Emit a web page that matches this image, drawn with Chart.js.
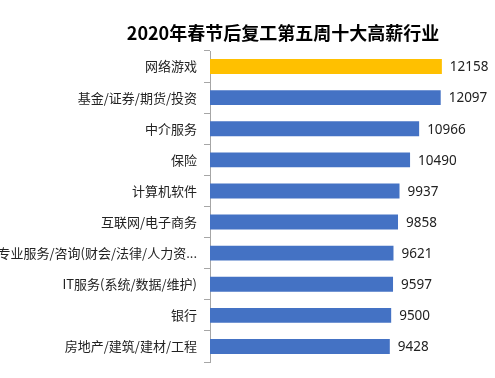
<!DOCTYPE html>
<html>
<head>
<meta charset="utf-8">
<script src="https://cdn.jsdelivr.net/npm/chart.js@4"></script>
<style>
html,body{margin:0;padding:0;background:#fff;}
#wrap{width:495px;height:378px;}
</style>
</head>
<body>
<div id="wrap"><canvas id="c" width="495" height="378"></canvas></div>
<script>
const categories = ["网络游戏","基金/证券/期货/投资","中介服务","保险","计算机软件","互联网/电子商务","专业服务/咨询(财会/法律/人力资...","IT服务(系统/数据/维护)","银行","房地产/建筑/建材/工程"];
const salaries = [12158,12097,10966,10490,9937,9858,9621,9597,9500,9428];
const titleText = "2020年春节后复工第五周十大高薪行业";
const barColors = salaries.map((v,i)=> i===0 ? "#FFC000" : "#4472C4");

const valueLabels = {
  id:'valueLabels',
  afterDatasetsDraw(chart){
    const ctx = chart.ctx;
    const meta = chart.getDatasetMeta(0);
    ctx.save();
    ctx.font = '13.5px "Noto Sans", "DejaVu Sans", sans-serif';
    ctx.fillStyle = '#222';
    ctx.textAlign = 'left';
    ctx.textBaseline = 'middle';
    meta.data.forEach((bar,i)=>{
      ctx.fillText(String(salaries[i]), bar.x + 8, bar.y + 1);
    });
    ctx.restore();
  }
};

const offsetTitle = {
  id:'offsetTitle',
  afterDraw(chart){
    const ctx = chart.ctx;
    ctx.save();
    ctx.font = 'bold 18px "Noto Sans CJK SC", sans-serif';
    ctx.fillStyle = '#000';
    ctx.textAlign = 'center';
    ctx.textBaseline = 'middle';
    ctx.fillText(titleText, 283, 33);
    ctx.restore();
  }
};

new Chart(document.getElementById('c'), {
  type:'bar',
  data:{
    labels:categories,
    datasets:[{data:salaries, backgroundColor:barColors, borderWidth:0, categoryPercentage:1, barPercentage:0.48}]
  },
  options:{
    indexAxis:'y',
    responsive:false,
    animation:false,
    layout:{padding:{left:0,right:18,top:51,bottom:16}},
    plugins:{
      legend:{display:false},
      tooltip:{enabled:false},
      title:{display:false}
    },
    scales:{
      x:{display:false,min:0,max:14000},
      y:{
        afterFit(scale){ scale.width = 210; },
        border:{display:true,color:'#A6A6A6',width:1},
        grid:{display:true,drawOnChartArea:false,drawTicks:true,tickLength:6,color:'#A6A6A6',offset:true},
        ticks:{color:'#222',padding:7,font:{family:'"Noto Sans CJK SC", sans-serif',size:13}}
      }
    }
  },
  plugins:[valueLabels, offsetTitle]
});
</script>
</body>
</html>
